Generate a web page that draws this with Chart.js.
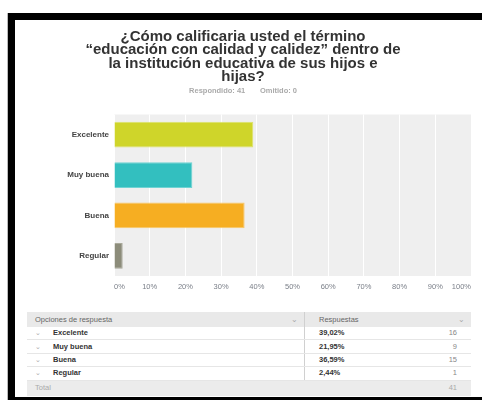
<!DOCTYPE html>
<html>
<head>
<meta charset="utf-8">
<script src="https://cdn.jsdelivr.net/npm/chart.js@4/dist/chart.umd.min.js"></script>
<style>
  html, body { margin:0; padding:0; background:#fff; }
  body { width:482px; height:400px; position:relative; overflow:hidden; font-family:"Liberation Sans", Arial, sans-serif; }
  .frame-top { position:absolute; left:8px; top:13px; width:474px; height:7px; background:#000; }
  .frame-left { position:absolute; left:8px; top:13px; width:7px; height:387px; background:#000; }
  .frame-edge { position:absolute; left:7px; top:13px; width:1px; height:387px; background:#bbb; }
  .frame-bottom { position:absolute; left:8px; top:397px; width:474px; height:3px; background:#000; }
  #wrap { position:absolute; left:15px; top:20px; width:467px; height:280px; }
  table { position:absolute; left:27px; top:312px; width:444px; border-collapse:collapse; font-size:7.5px; }
  td { height:12.4px; padding:0; line-height:12px; white-space:nowrap; }
  tr.head td { background:#e9e9e9; color:#666; height:15px; }
  tr.tot td { background:#ececec; color:#aaa; height:15px; }
  tr.row td { border-bottom:1px solid #e6e6e6; }
  .c1 { width:269px; border-right:1px solid #d0d0d0; }
  tr.tot .c1 { border-right:none; }
  .caret { color:#aaa; display:inline-block; width:18px; padding-left:8px; font-size:7px; }
  .lab { color:#333; font-weight:bold; }
  .pct { color:#333; font-weight:bold; padding-left:14px; }
  .cnt { color:#888; text-align:right; padding-right:14px; }
  .hcar { float:right; color:#aaa; padding-right:6px; }
</style>
</head>
<body>
<div class="frame-top"></div>
<div class="frame-edge"></div>
<div class="frame-left"></div>
<div class="frame-bottom"></div>
<div id="wrap"><canvas id="c"></canvas></div>
<table id="tbl"></table>
<script>
const titleLines = ["¿Cómo calificaria usted el término", "“educación con calidad y calidez” dentro de", "la institución educativa de sus hijos e", "hijas?"];
const subtitleText = "Respondido: 41       Omitido: 0";
const categories = ["Excelente", "Muy buena", "Buena", "Regular"];
const percents = [39.02, 21.95, 36.59, 2.44];
const percentLabels = ["39,02%", "21,95%", "36,59%", "2,44%"];
const counts = [16, 9, 15, 1];
const total = 41;
const barColors = ["#cfd52a", "#33bfbf", "#f6ae22", "#8c8c7a"];
const barBorders = ["#dde46a", "#6fd3d3", "#f9c665", "#a9a99a"];
const xTicks = [0, 10, 20, 30, 40, 50, 60, 70, 80, 90, 100];

// table
const tbl = document.getElementById('tbl');
let html = '<tr class="head"><td class="c1" style="padding-left:8px">Opciones de respuesta<span class="hcar">&#8964;</span></td><td colspan="2" style="padding-left:14px">Respuestas<span class="hcar">&#8964;</span></td></tr>';
categories.forEach((c, i) => {
  html += '<tr class="row"><td class="c1"><span class="caret">&#8964;</span><span class="lab">' + c + '</span></td><td class="pct">' + percentLabels[i] + '</td><td class="cnt">' + counts[i] + '</td></tr>';
});
html += '<tr class="tot"><td class="c1" style="padding-left:8px">Total</td><td></td><td class="cnt">' + total + '</td></tr>';
tbl.innerHTML = html;

const bgPlugin = {
  id: 'plotBg',
  beforeDraw(chart) {
    const a = chart.chartArea, ctx = chart.ctx;
    ctx.save();
    ctx.fillStyle = '#efefef';
    ctx.fillRect(a.left, a.top, a.right - a.left, a.bottom - a.top);
    ctx.restore();
  }
};

new Chart(document.getElementById('c'), {
  type: 'bar',
  data: {
    labels: categories,
    datasets: [{
      data: percents,
      backgroundColor: barColors,
      borderColor: barBorders,
      borderWidth: 1,
      barPercentage: 0.8,
      categoryPercentage: 0.8
    }]
  },
  options: {
    indexAxis: 'y',
    responsive: true,
    maintainAspectRatio: false,
    animation: false,
    layout: { padding: { left: 0, right: 11, top: 0, bottom: 3 } },
    plugins: {
      legend: { display: false },
      tooltip: { enabled: false },
      title: {
        display: true,
        text: titleLines,
        color: '#333',
        font: { family: 'Liberation Sans', size: 15, weight: 'bold', lineHeight: '13.5px' },
        padding: { top: 10, bottom: 3 }
      },
      subtitle: {
        display: true,
        text: subtitleText,
        color: '#aaa',
        font: { family: 'Liberation Sans', size: 7.5, weight: 'bold', lineHeight: 1.0 },
        padding: { top: 0, bottom: 20 }
      }
    },
    scales: {
      x: {
        min: 0, max: 100,
        afterBuildTicks(scale) { scale.ticks = xTicks.map(v => ({ value: v })); },
        grid: { color: '#ffffff', lineWidth: 1, drawTicks: false },
        border: { display: false },
        ticks: {
          align: 'inner',
          padding: 6,
          color: '#7a7f88',
          font: { family: 'Liberation Sans', size: 7.5 },
          callback: v => v + '%'
        }
      },
      y: {
        grid: { display: false, drawTicks: false },
        border: { display: false },
        afterFit(scale) { scale.width = 99; },
        ticks: {
          padding: 5,
          color: '#444',
          font: { family: 'Liberation Sans', size: 8, weight: 'bold' }
        }
      }
    }
  },
  plugins: [bgPlugin]
});
</script>
</body>
</html>
